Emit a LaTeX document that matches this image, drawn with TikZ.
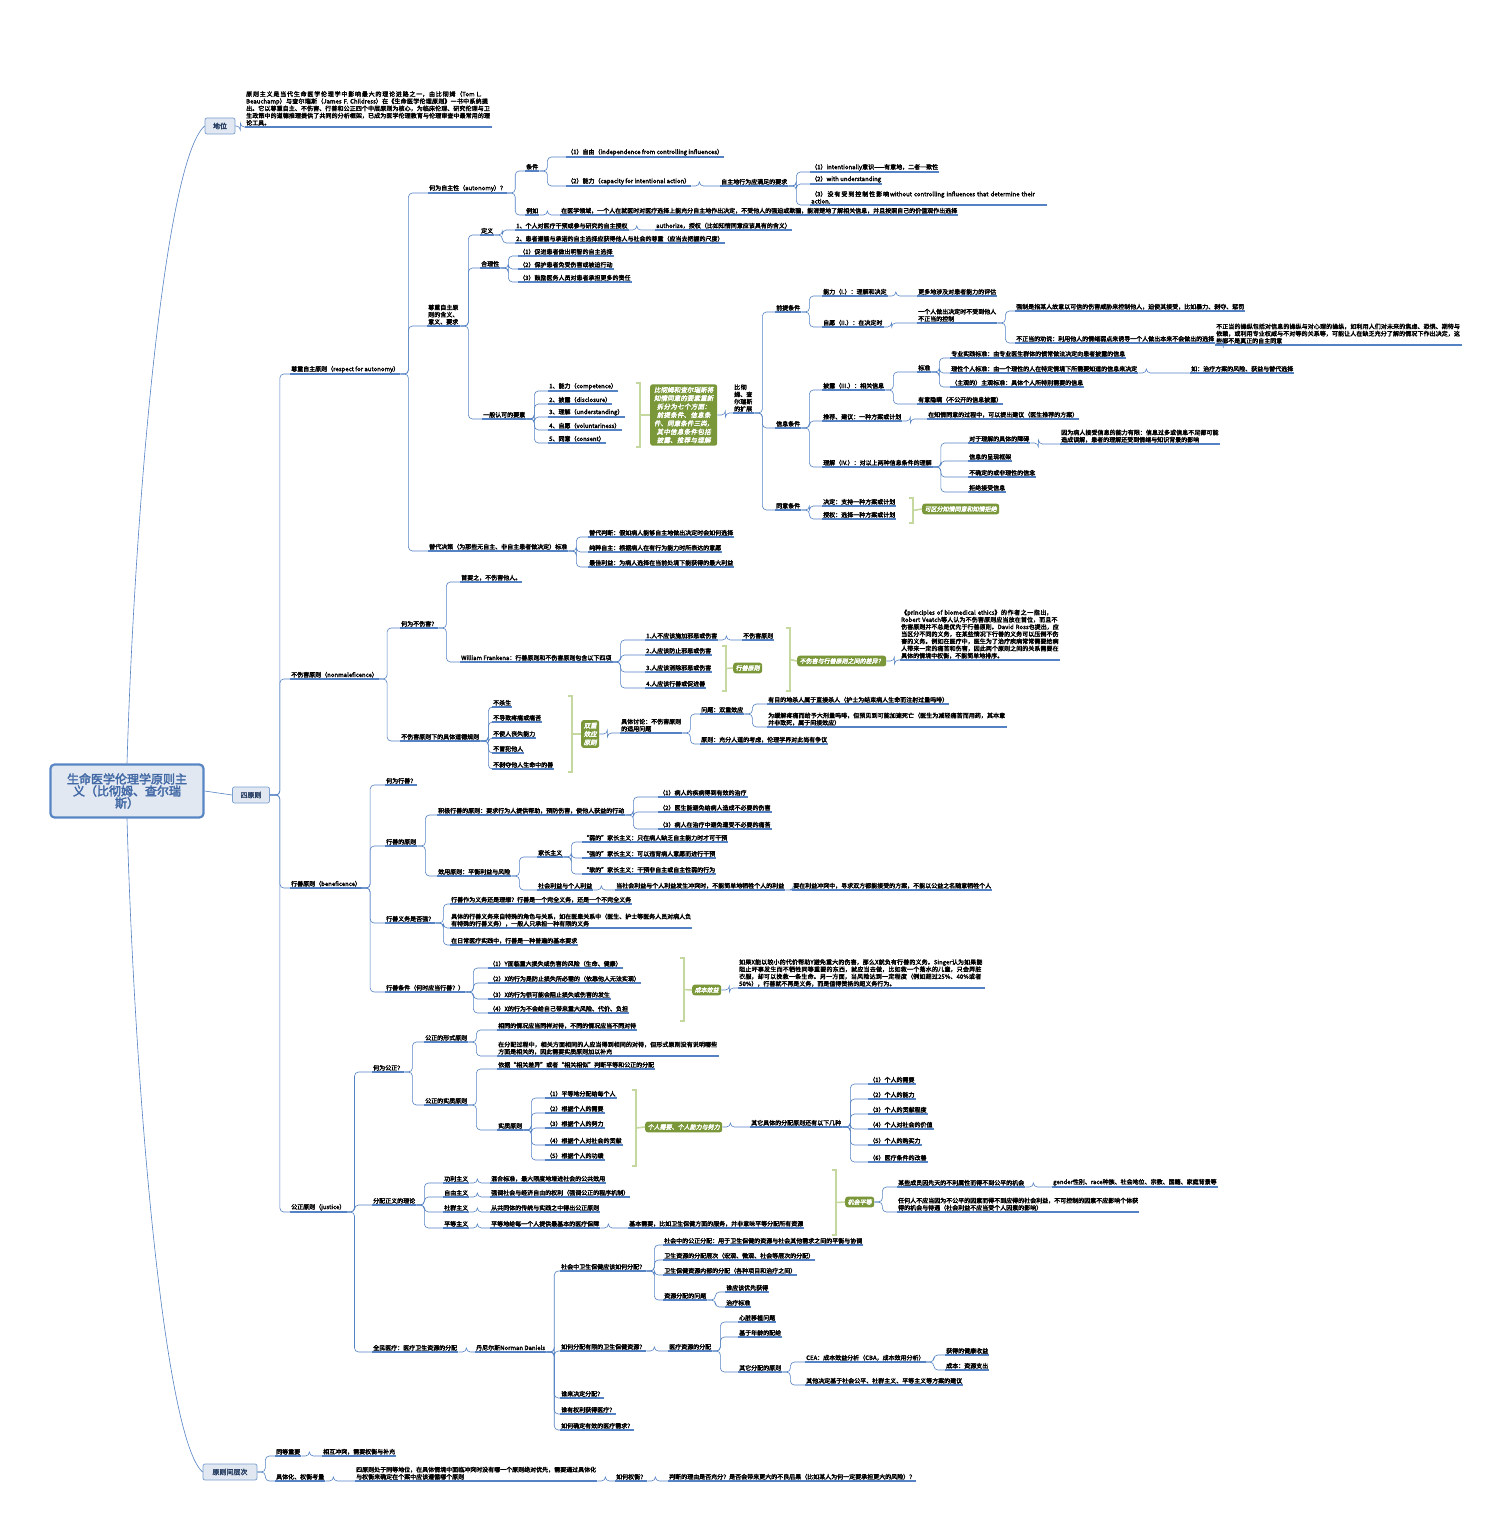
\documentclass[tikz,border=0pt]{standalone}
\usepackage{fontspec}
\setmainfont{Noto Sans CJK SC}
\newfontfamily\heavy{Noto Sans CJK SC}[FakeBold=2.8]
\newfontfamily\heavyslant{Noto Sans CJK SC}[FakeBold=2.5,FakeSlant=0.2]
\usepackage{xcolor}
\usepackage{tikz}
\XeTeXlinebreaklocale "zh"
\XeTeXlinebreakskip=0pt plus 1pt
\definecolor{mapline}{RGB}{84,130,196}
\definecolor{rootfill}{RGB}{226,232,242}
\definecolor{rootdraw}{RGB}{88,134,197}
\definecolor{roottext}{RGB}{66,105,165}
\definecolor{leafgreen}{RGB}{122,152,58}
\definecolor{bracegreen}{RGB}{197,216,160}
\tikzstyle{topic}=[anchor=south west,inner xsep=1pt,inner ysep=1.2pt,align=left,font=\heavy\fontsize{6}{7.2}\selectfont]
\tikzstyle{uline}=[draw=mapline,line width=1.1pt]
\tikzstyle{link}=[draw=mapline,line width=0.6pt,rounded corners=4pt]
\tikzstyle{root}=[draw=rootdraw,line width=2.2pt,fill=rootfill,rounded corners=4pt,text=roottext,align=center,minimum width=153pt,minimum height=53pt,font=\heavy\fontsize{12}{12}\selectfont]
\tikzstyle{branch}=[draw=rootdraw!80,line width=0.7pt,fill=rootfill,rounded corners=2pt,text=roottext!60!black,minimum height=16pt,font=\heavy\fontsize{7}{8}\selectfont]
\tikzstyle{summary}=[fill=leafgreen,text=white,rounded corners=2.5pt,anchor=west,align=center,inner sep=2.5pt,font=\heavyslant\fontsize{6}{7.2}\selectfont]
\tikzstyle{brace}=[draw=bracegreen,line width=1.6pt]
% topic with underline: name, x, y (underline), text
\newcommand{\mtopic}[4]{\node[topic] (#1) at (#2,#3) {#4};
  \draw[uline] (#1.south west) -- (#1.south east);}
\newcommand{\mtopicw}[5]{\node[topic,text width=#4] (#1) at (#2,#3) {#5};
  \draw[uline] (#1.south west) -- (#1.south east);}
\newcommand{\mlink}[2]{\draw[link] (#1.south east) -- ++(8,0) |- (#2.south west);}
\newcommand{\elink}[2]{\draw[link] (#1.east) -- ++(8,0) |- (#2.south west);}
% bracket: name, x, top, bottom
\newcommand{\mbrace}[4]{\draw[brace] (#2-4,#3) -- (#2,#3) -- (#2,#4) -- (#2-4,#4);
  \coordinate (#1) at (#2,{(#3+#4)/2});}

\begin{document}
\begin{tikzpicture}[x=1pt,y=-1pt]
\path[use as bounding box,fill=white] (0,0) rectangle (1504,1536);

% root and first level
\node[root] (rt) at (127,791) {生命医学伦理学原则主\\义（比彻姆、查尔瑞\\斯）};
\node[branch,minimum width=30pt] (dw) at (220,126) {地位};
\node[branch,minimum width=37pt] (sy) at (251,795) {四原则};
\node[branch,minimum width=54pt] (cj) at (230,1472) {原则间层次};
\draw[link] (rt.north) .. controls (135,500) and (165,160) .. (dw.west);
\draw[link] (rt.south) .. controls (135,1100) and (165,1440) .. (cj.west);
\draw[link] (rt.east) -- (sy.west);

% status
\mtopicw{dwt}{245}{127}{245}{原则主义是当代生命医学伦理学中影响最大的理论进路之一，由比彻姆（Tom L. Beauchamp）与查尔瑞斯（James F. Childress）在《生命医学伦理原则》一书中系统提出。它以尊重自主、不伤害、行善和公正四个中层原则为核心，为临床伦理、研究伦理与卫生政策中的道德推理提供了共同的分析框架，已成为医学伦理教育与伦理审查中最常用的理论工具。}
\draw[link] (dw.east) -- ++(5,0) |- (dwt.south west);

% four principles
\mtopic{zz}{290}{374}{尊重自主原则（respect for autonomy）}
\mtopic{bs}{290}{679}{不伤害原则（nonmaleficence）}
\mtopic{xs}{290}{888}{行善原则（beneficence）}
\mtopic{gzy}{290}{1212}{公正原则（justice）}
\foreach \c in {zz,bs,xs,gzy} {\draw[link] (sy.east) -- ++(10,0) |- (\c.south west);}

% respect for autonomy
\mtopic{zz1}{428}{193}{何为自主性（autonomy）？}
\mtopicw{zz2}{427}{326}{31}{尊重自主原则的含义、意义、要求}
\mtopic{zz3}{428}{551}{替代决策（为那些无自主、非自主患者做决定）标准}
\foreach \c in {zz1,zz2,zz3} {\mlink{zz}{\c}}

\mtopic{tj}{525}{171}{条件}
\mtopic{lr}{525}{215}{例如}
\mlink{zz1}{tj} \mlink{zz1}{lr}
\mtopic{tj1}{566}{157}{（1）自由（independence from controlling influences）}
\mtopic{tj2}{566}{186}{（2）能力（capacity for intentional action）}
\mlink{tj}{tj1} \mlink{tj}{tj2}
\mtopic{tj2a}{720}{186}{自主地行为应满足的要求}
\mlink{tj2}{tj2a}
\mtopic{tj2a1}{810}{172}{（1）intentionally意识——有意地，二者一致性}
\mtopic{tj2a2}{810}{184}{（2）with understanding}
\mtopicw{tj2a3}{810}{205}{235}{（3）没有受到控制性影响without controlling influences that determine their action.}
\foreach \c in {tj2a1,tj2a2,tj2a3} {\mlink{tj2a}{\c}}
\mtopic{lr1}{560}{215}{在医学领域，一个人在就医时对医疗选择上能充分自主地作出决定，不受他人的强迫或欺骗，能清楚地了解相关信息，并且按照自己的价值观作出选择}
\mlink{lr}{lr1}

\mtopic{dy}{480}{235}{定义}
\mtopic{hl}{480}{268}{合理性}
\mtopic{ys}{482}{419}{一般认可的要素}
\foreach \c in {dy,hl,ys} {\mlink{zz2}{\c}}
\mtopic{dy1}{515}{230}{1、个人对医疗干预或参与研究的自主授权}
\mtopic{dy1a}{655}{230}{authorize，授权（比如知情同意应该具有的含义）}
\mtopic{dy2}{515}{243}{2、患者遵循与承诺的自主选择应获得他人与社会的尊重（应当去把握的尺度）}
\mlink{dy}{dy1} \mlink{dy}{dy2} \mlink{dy1}{dy1a}
\mtopic{hl1}{518}{256}{（1）促进患者做出明智的自主选择}
\mtopic{hl2}{518}{269}{（2）保护患者免受伤害或被迫行动}
\mtopic{hl3}{518}{282}{（3）鼓励医务人员对患者承担更多的责任}
\foreach \c in {hl1,hl2,hl3} {\mlink{hl}{\c}}

\mtopic{ys1}{548}{391}{1、能力（competence）}
\mtopic{ys2}{548}{404}{2、披露（disclosure）}
\mtopic{ys3}{548}{417}{3、理解（understanding）}
\mtopic{ys4}{548}{430}{4、自愿（voluntariness）}
\mtopic{ys5}{548}{443}{5、同意（consent）}
\foreach \c in {ys1,ys2,ys3,ys4,ys5} {\mlink{ys}{\c}}
\mbrace{ysb}{640}{383}{447}
\node[summary,text width=62pt,font=\heavyslant\fontsize{6.5}{8.4}\selectfont] (sg1) at (650,415) {比彻姆和查尔瑞斯将知情同意的要素重新拆分为七个方面：前提条件、信息条件、同意条件三类，其中信息条件包括披露、推荐与理解};
\draw[brace] (ysb) -- (sg1.west);
\mtopicw{sg1a}{733}{413}{19}{比彻姆、查尔瑞斯的扩展}
\elink{sg1}{sg1a}

\mtopic{qt}{775}{312}{前提条件}
\mtopic{xx}{775}{428}{信息条件}
\mtopic{ty}{775}{510}{同意条件}
\foreach \c in {qt,xx,ty} {\mlink{sg1a}{\c}}
\mtopic{qt1}{822}{296}{能力（I.）：理解和决定}
\mtopic{qt2}{822}{327}{自愿（II.）：在决定时}
\mlink{qt}{qt1} \mlink{qt}{qt2}
\mtopic{qt1a}{917}{296}{更多地涉及对患者能力的评估}
\mtopicw{qt2a}{917}{323}{78}{一个人做出决定时不受到他人不正当的控制}
\mlink{qt1}{qt1a} \mlink{qt2}{qt2a}
\mtopic{qt2a1}{1015}{311}{强制是指某人故意以可信的伤害威胁来控制他人，迫使其接受，比如暴力、剥夺、惩罚}
\mtopic{qt2a2}{1015}{343}{不正当的劝说：利用他人的情绪弱点来诱导一个人做出本来不会做出的选择}
\mlink{qt2a}{qt2a1} \mlink{qt2a}{qt2a2}
\mtopicw{qt2a2a}{1215}{345}{245}{不正当的操纵包括对信息的操纵与对心理的操纵，如利用人们对未来的焦虑、恐惧、期待与依赖，或利用专业权威与不对等的关系等，可能让人在缺乏充分了解的情况下作出决定，这些都不是真正的自主同意}
\mlink{qt2a2}{qt2a2a}

\mtopic{xx1}{822}{390}{披露（III.）：相关信息}
\mtopic{xx2}{822}{421}{推荐、建议：一种方案或计划}
\mtopic{xx3}{822}{467}{理解（IV.）：对以上两种信息条件的理解}
\foreach \c in {xx1,xx2,xx3} {\mlink{xx}{\c}}
\mtopic{xx1a}{917}{372}{标准}
\mtopic{xx1b}{917}{404}{有意隐瞒（不公开的信息披露）}
\mlink{xx1}{xx1a} \mlink{xx1}{xx1b}
\mtopic{xx1a1}{950}{358}{专业实践标准：由专业医生群体的惯常做法决定向患者披露的信息}
\mtopic{xx1a2}{950}{373}{理性个人标准：由一个理性的人在特定情境下所需要知道的信息来决定}
\mtopic{xx1a3}{950}{387}{（主观的）主观标准：具体个人所特别需要的信息}
\foreach \c in {xx1a1,xx1a2,xx1a3} {\mlink{xx1a}{\c}}
\mtopic{xx1a2a}{1190}{373}{如：治疗方案的风险、获益与替代选择}
\mlink{xx1a2}{xx1a2a}
\mtopic{xx2a}{927}{419}{在知情同意的过程中，可以提出建议（医生推荐的方案）}
\mlink{xx2}{xx2a}
\mtopic{xx3a}{968}{443}{对于理解的具体的障碍}
\mtopic{xx3b}{968}{461}{信息的呈现框架}
\mtopic{xx3c}{968}{477}{不确定的或非理性的信念}
\mtopic{xx3d}{968}{492}{拒绝接受信息}
\foreach \c in {xx3a,xx3b,xx3c,xx3d} {\mlink{xx3}{\c}}
\mtopicw{xx3a1}{1060}{444}{158}{因为病人接受信息的能力有限：信息过多或信息不足都可能造成误解，患者的理解还受到情绪与知识背景的影响}
\mlink{xx3a}{xx3a1}

\mtopic{ty1}{822}{506}{决定：支持一种方案或计划}
\mtopic{ty2}{822}{519}{授权：选择一种方案或计划}
\mlink{ty}{ty1} \mlink{ty}{ty2}
\mbrace{tyb}{913}{498}{523}
\node[summary] (sg2) at (922,509) {可区分知情同意和知情拒绝};
\draw[brace] (tyb) -- (sg2.west);

\mtopic{zz3a}{588}{537}{替代判断：假如病人能够自主地做出决定时会如何选择}
\mtopic{zz3b}{588}{552}{纯粹自主：根据病人在有行为能力时所表达的意愿}
\mtopic{zz3c}{588}{567}{最佳利益：为病人选择在当前处境下能获得的最大利益}
\foreach \c in {zz3a,zz3b,zz3c} {\mlink{zz3}{\c}}

% nonmaleficence
\mtopic{bs1}{400}{628}{何为不伤害？}
\mtopic{bs2}{400}{741}{不伤害原则下的具体道德规则}
\mlink{bs}{bs1} \mlink{bs}{bs2}
\mtopic{bs1a}{460}{582}{首要之，不伤害他人。}
\mtopic{bs1b}{460}{662}{William Frankena：行善原则和不伤害原则包含以下四项}
\mlink{bs1}{bs1a} \mlink{bs1}{bs1b}
\mtopic{fk1}{645}{640}{1.人不应该施加邪恶或伤害}
\mtopic{fk2}{645}{655}{2.人应该防止邪恶或伤害}
\mtopic{fk3}{645}{672}{3.人应该消除邪恶或伤害}
\mtopic{fk4}{645}{688}{4.人应该行善或促进善}
\foreach \c in {fk1,fk2,fk3,fk4} {\mlink{bs1b}{\c}}
\mtopic{fk1a}{742}{640}{不伤害原则}
\mlink{fk1}{fk1a}
\mbrace{fkb}{726}{646}{691}
\node[summary] (sg3) at (733,668) {行善原则};
\draw[brace] (fkb) -- (sg3.west);
\mbrace{fkc}{790}{628}{691}
\node[summary] (sg4) at (797,661) {不伤害与行善原则之间的差异？};
\draw[brace] (fkc) -- (sg4.west);
\mtopicw{sg4a}{900}{660}{158}{《principles of biomedical ethics》的作者之一指出，Robert Veatch等人认为不伤害原则应当放在首位，而且不伤害原则并不总是优先于行善原则。David Ross也提出，应当区分不同的义务，在某些情况下行善的义务可以压倒不伤害的义务。例如在医疗中，医生为了治疗疾病常常需要给病人带来一定的痛苦和伤害，因此两个原则之间的关系需要在具体的情境中权衡，不能简单地排序。}
\elink{sg4}{sg4a}

\mtopic{gr1}{492}{707}{不杀生}
\mtopic{gr2}{492}{722}{不导致疼痛或痛苦}
\mtopic{gr3}{492}{738}{不使人丧失能力}
\mtopic{gr4}{492}{753}{不冒犯他人}
\mtopic{gr5}{492}{769}{不剥夺他人生命中的善}
\foreach \c in {gr1,gr2,gr3,gr4,gr5} {\mlink{bs2}{\c}}
\mbrace{grb}{572}{696}{772}
\node[summary,text width=13pt,font=\heavyslant\fontsize{6.5}{8.4}\selectfont] (sg5) at (581,734) {双重效应原则};
\draw[brace] (grb) -- (sg5.west);
\mtopicw{sg5a}{620}{733}{60}{具体讨论：不伤害原则的适用问题}
\elink{sg5}{sg5a}
\mtopic{sc1}{700}{714}{问题：双重效应}
\mtopic{sc2}{700}{744}{原则：充分人道的考虑，伦理学界对此尚有争议}
\mlink{sg5a}{sc1} \mlink{sg5a}{sc2}
\mtopic{sc1a}{767}{704}{有目的地杀人属于直接杀人（护士为结束病人生命而注射过量吗啡）}
\mtopicw{sc1b}{767}{727}{238}{为缓解疼痛而给予大剂量吗啡，但预见到可能加速死亡（医生为减轻痛苦而用药，其本意并非致死，属于间接效应）}
\mlink{sc1}{sc1a} \mlink{sc1}{sc1b}

% beneficence
\mtopic{xs1}{385}{785}{何为行善？}
\mtopic{xs2}{385}{846}{行善的原则}
\mtopic{xs3}{385}{923}{行善义务是否强？}
\mtopic{xs4}{385}{992}{行善条件（何时应当行善？）}
\foreach \c in {xs1,xs2,xs3,xs4} {\mlink{xs}{\c}}
\mtopic{xs2a}{437}{815}{积极行善的原则：要求行为人提供帮助，预防伤害，使他人获益的行动}
\mtopic{xs2b}{437}{876}{效用原则：平衡利益与风险}
\mlink{xs2}{xs2a} \mlink{xs2}{xs2b}
\mtopic{xs2a1}{658}{797}{（1）病人的疾病得到有效的治疗}
\mtopic{xs2a2}{658}{812}{（2）医生能避免给病人造成不必要的伤害}
\mtopic{xs2a3}{658}{829}{（3）病人在治疗中避免遭受不必要的痛苦}
\foreach \c in {xs2a1,xs2a2,xs2a3} {\mlink{xs2a}{\c}}
\mtopic{jz}{537}{857}{家长主义}
\mtopic{sh}{537}{890}{社会利益与个人利益}
\mlink{xs2b}{jz} \mlink{xs2b}{sh}
\mtopic{jz1}{582}{842}{“弱的”家长主义：只在病人缺乏自主能力时才可干预}
\mtopic{jz2}{582}{858}{“强的”家长主义：可以违背病人意愿而进行干预}
\mtopic{jz3}{582}{874}{“软的”家长主义：干预非自主或自主性弱的行为}
\foreach \c in {jz1,jz2,jz3} {\mlink{jz}{\c}}
\mtopic{sh1}{615}{890}{当社会利益与个人利益发生冲突时，不能简单地牺牲个人的利益}
\mtopic{sh2}{792}{890}{要在利益冲突中，寻求双方都能接受的方案，不能以公益之名随意牺牲个人}
\mlink{sh}{sh1} \mlink{sh1}{sh2}
\mtopic{xs3a}{450}{904}{行善作为义务还是理想？行善是一个完全义务，还是一个不完全义务}
\mtopicw{xs3b}{450}{928}{240}{具体的行善义务来自特殊的角色与关系，如在医患关系中（医生、护士等医务人员对病人负有特殊的行善义务），一般人只承担一种有限的义务}
\mtopic{xs3c}{450}{945}{在日常医疗实践中，行善是一种普遍的基本要求}
\foreach \c in {xs3a,xs3b,xs3c} {\mlink{xs3}{\c}}
\mtopic{xs4a}{488}{968}{（1）Y面临重大损失或伤害的风险（生命、健康）}
\mtopic{xs4b}{488}{983}{（2）X的行为是防止损失所必需的（依靠他人无法实现）}
\mtopic{xs4c}{488}{999}{（3）X的行为很可能会阻止损失或伤害的发生}
\mtopic{xs4d}{488}{1013}{（4）X的行为不会给自己带来重大风险、代价、负担}
\foreach \c in {xs4a,xs4b,xs4c,xs4d} {\mlink{xs4}{\c}}
\mbrace{xsb}{684}{958}{1021}
\node[summary] (sg6) at (692,990) {成本效益};
\draw[brace] (xsb) -- (sg6.west);
\mtopicw{sg6a}{738}{988}{245}{如果X能以较小的代价帮助Y避免重大的伤害，那么X就负有行善的义务。Singer认为如果能阻止坏事发生而不牺牲同等重要的东西，就应当去做，比如救一个落水的儿童，只会弄脏衣服，却可以挽救一条生命。另一方面，当风险达到一定程度（例如超过25\%、40\%或者50\%），行善就不再是义务，而是值得赞扬的超义务行为。}
\elink{sg6}{sg6a}

% justice
\mtopic{gzy1}{372}{1072}{何为公正？}
\mtopic{gzy2}{372}{1205}{分配正义的理论}
\mtopic{gzy3}{372}{1352}{全民医疗：医疗卫生资源的分配}
\foreach \c in {gzy1,gzy2,gzy3} {\mlink{gzy}{\c}}
\mtopic{gf}{424}{1042}{公正的形式原则}
\mtopic{gs}{424}{1105}{公正的实质原则}
\mlink{gzy1}{gf} \mlink{gzy1}{gs}
\mtopic{gf1}{497}{1030}{相同的情况应当同样对待，不同的情况应当不同对待}
\mtopicw{gf2}{497}{1056}{220}{在分配过程中，相关方面相同的人应当得到相同的对待，但形式原则没有说明哪些方面是相关的，因此需要实质原则加以补充}
\mlink{gf}{gf1} \mlink{gf}{gf2}
\mtopic{gs1}{497}{1069}{依据“相关差异”或者“相关相似”判断平等和公正的分配}
\mtopic{gs2}{497}{1130}{实质原则}
\mlink{gs}{gs1} \mlink{gs}{gs2}
\mtopic{gs2a}{545}{1098}{（1）平等地分配给每个人}
\mtopic{gs2b}{545}{1113}{（2）根据个人的需要}
\mtopic{gs2c}{545}{1128}{（3）根据个人的努力}
\mtopic{gs2d}{545}{1145}{（4）根据个人对社会的贡献}
\mtopic{gs2e}{545}{1160}{（5）根据个人的功绩}
\foreach \c in {gs2a,gs2b,gs2c,gs2d,gs2e} {\mlink{gs2}{\c}}
\mbrace{gsb}{636}{1090}{1166}
\node[summary] (sg7) at (645,1127) {个人需要、个人能力与努力};
\draw[brace] (gsb) -- (sg7.west);
\mtopic{sg7a}{750}{1127}{其它具体的分配原则还有以下几种}
\elink{sg7}{sg7a}
\mtopic{fp1}{868}{1084}{（1）个人的需要}
\mtopic{fp2}{868}{1099}{（2）个人的能力}
\mtopic{fp3}{868}{1114}{（3）个人的贡献程度}
\mtopic{fp4}{868}{1129}{（4）个人对社会的价值}
\mtopic{fp5}{868}{1145}{（5）个人的购买力}
\mtopic{fp6}{868}{1162}{（6）医疗条件的改善}
\foreach \c in {fp1,fp2,fp3,fp4,fp5,fp6} {\mlink{sg7a}{\c}}

\mtopic{ll1}{443}{1183}{功利主义}
\mtopic{ll2}{443}{1197}{自由主义}
\mtopic{ll3}{443}{1212}{社群主义}
\mtopic{ll4}{443}{1228}{平等主义}
\foreach \c in {ll1,ll2,ll3,ll4} {\mlink{gzy2}{\c}}
\mtopic{ll1a}{490}{1183}{混合标准，最大限度地增进社会的公共效用}
\mtopic{ll2a}{490}{1197}{强调社会与经济自由的权利（强调公正的程序机制）}
\mtopic{ll3a}{490}{1212}{从共同体的传统与实践之中得出公正原则}
\mtopic{ll4a}{490}{1228}{平等地给每一个人提供最基本的医疗保障}
\mtopic{ll4b}{628}{1228}{基本需要，比如卫生保健方面的服务，并非意味平等分配所有资源}
\mlink{ll1}{ll1a} \mlink{ll2}{ll2a} \mlink{ll3}{ll3a} \mlink{ll4}{ll4a} \mlink{ll4a}{ll4b}
\mbrace{llb}{836}{1170}{1235}
\node[summary] (sg8) at (845,1202) {机会平等};
\draw[brace] (llb) -- (sg8.west);
\mtopic{sg8a}{897}{1187}{某些成员因先天的不利属性而得不到公平的机会}
\mtopicw{sg8b}{897}{1212}{240}{任何人不应当因为不公平的因素而得不到应得的社会利益，不可控制的因素不应影响个体获得的机会与待遇（社会利益不应当受个人因素的影响）}
\elink{sg8}{sg8a} \elink{sg8}{sg8b}
\mtopic{sg8a1}{1052}{1187}{gender性别、race种族、社会地位、宗教、国籍、家庭背景等}
\mlink{sg8a}{sg8a1}

\mtopic{nd}{475}{1352}{丹尼尔斯Norman Daniels}
\mlink{gzy3}{nd}
\mtopic{nd1}{560}{1271}{社会中卫生保健应该如何分配？}
\mtopic{nd2}{560}{1351}{如何分配有限的卫生保健资源？}
\mtopic{nd3}{560}{1398}{谁来决定分配？}
\mtopic{nd4}{560}{1414}{谁有权利获得医疗？}
\mtopic{nd5}{560}{1430}{如何确定有效的医疗需求？}
\foreach \c in {nd1,nd2,nd3,nd4,nd5} {\mlink{nd}{\c}}
\mtopic{nd1a}{663}{1245}{社会中的公正分配：用于卫生保健的资源与社会其他需求之间的平衡与协调}
\mtopic{nd1b}{663}{1260}{卫生资源的分配层次（宏观、微观、社会等层次的分配）}
\mtopic{nd1c}{663}{1275}{卫生保健资源内部的分配（各种项目和治疗之间）}
\mtopic{nd1d}{663}{1300}{资源分配的问题}
\foreach \c in {nd1a,nd1b,nd1c,nd1d} {\mlink{nd1}{\c}}
\mtopic{nd1d1}{725}{1292}{谁应该优先获得}
\mtopic{nd1d2}{725}{1307}{治疗标准}
\mlink{nd1d}{nd1d1} \mlink{nd1d}{nd1d2}
\mtopic{nd2a}{668}{1351}{医疗资源的分配}
\mlink{nd2}{nd2a}
\mtopic{nd2a1}{738}{1322}{心脏移植问题}
\mtopic{nd2a2}{738}{1337}{基于年龄的配给}
\mtopic{nd2a3}{738}{1372}{其它分配的原则}
\foreach \c in {nd2a1,nd2a2,nd2a3} {\mlink{nd2a}{\c}}
\mtopic{cea}{805}{1362}{CEA：成本效益分析（CBA，成本效用分析）}
\mtopic{ot}{805}{1385}{其他决定基于社会公平、社群主义、平等主义等方案的建议}
\mlink{nd2a3}{cea} \mlink{nd2a3}{ot}
\mtopic{cea1}{945}{1355}{获得的健康收益}
\mtopic{cea2}{945}{1370}{成本：资源支出}
\mlink{cea}{cea1} \mlink{cea}{cea2}

% ranking of principles
\mtopic{cj1}{275}{1456}{同等重要}
\mtopic{cj2}{275}{1481}{具体化、权衡考量}
\draw[link] (cj.east) -- ++(8,0) |- (cj1.south west);
\draw[link] (cj.east) -- ++(8,0) |- (cj2.south west);
\mtopic{cj1a}{322}{1456}{相互冲突，需要权衡与补充}
\mlink{cj1}{cj1a}
\mtopicw{cj2a}{355}{1481}{240}{四原则处于同等地位，在具体情境中面临冲突时没有哪一个原则绝对优先，需要通过具体化与权衡来确定在个案中应该遵循哪个原则}
\mtopic{cj2b}{615}{1481}{如何权衡？}
\mtopic{cj2c}{668}{1481}{判断的理由是否充分？是否会带来更大的不良后果（比如某人为何一定要承担更大的风险）？}
\mlink{cj2}{cj2a} \mlink{cj2a}{cj2b} \mlink{cj2b}{cj2c}
\end{tikzpicture}
\end{document}
